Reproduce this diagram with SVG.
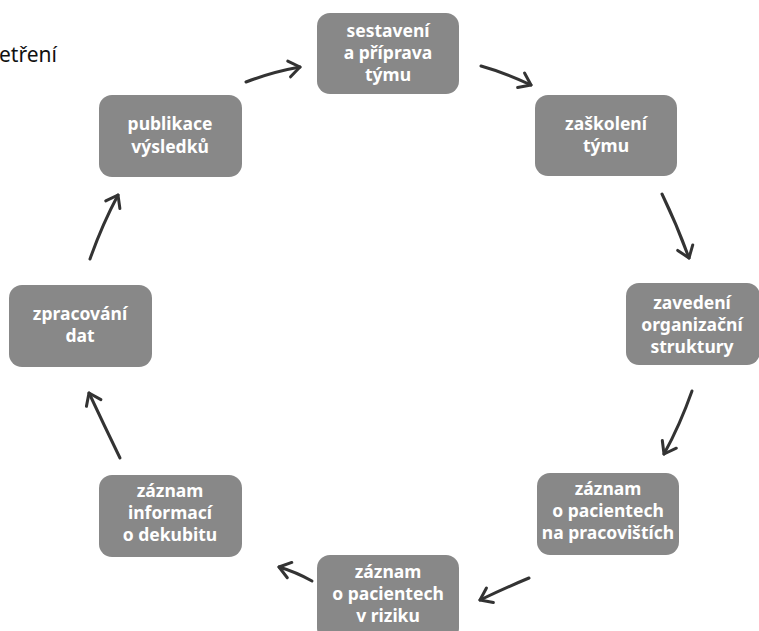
<svg xmlns="http://www.w3.org/2000/svg" width="759" height="631" viewBox="0 0 759 631">
<defs>
<marker id="ah" markerUnits="userSpaceOnUse" markerWidth="30" markerHeight="30" refX="15" refY="15" orient="auto" viewBox="0 0 30 30">
<path d="M4 7 L15 15 L4 23" fill="none" stroke="#333" stroke-width="3" stroke-linecap="round" stroke-linejoin="round"/>
</marker>
</defs>
<style>
.box{fill:#888;}
.lbl{font-family:"Noto Sans","DejaVu Sans",sans-serif;font-weight:bold;font-size:17.5px;fill:#fff;text-anchor:middle;}
.arr{fill:none;stroke:#333;stroke-width:3;stroke-linecap:round;marker-end:url(#ah);}
</style>
<rect width="759" height="631" fill="#fff"/>
<text x="-1" y="62" font-family="'Noto Sans',sans-serif" font-size="21" fill="#111">etření</text>
<g id="n1"><rect class="box" x="317" y="13" width="142" height="81" rx="13"/>
<text class="lbl"><tspan x="388" y="37">sestavení</tspan><tspan x="388" y="59">a příprava</tspan><tspan x="388" y="81">týmu</tspan></text></g>
<g id="n2"><rect class="box" x="535" y="95" width="142" height="81" rx="13"/>
<text class="lbl"><tspan x="606" y="130">zaškolení</tspan><tspan x="606" y="152">týmu</tspan></text></g>
<g id="n3"><rect class="box" x="626" y="283" width="134" height="82" rx="13"/>
<text class="lbl"><tspan x="692" y="309">zavedení</tspan><tspan x="692" y="331">organizační</tspan><tspan x="692" y="353">struktury</tspan></text></g>
<g id="n4"><rect class="box" x="537" y="473" width="142" height="82" rx="13"/>
<text class="lbl"><tspan x="608" y="495">záznam</tspan><tspan x="608" y="517">o pacientech</tspan><tspan x="608" y="539">na pracovištích</tspan></text></g>
<g id="n5"><rect class="box" x="317" y="555" width="142" height="86" rx="13"/>
<text class="lbl"><tspan x="388" y="578">záznam</tspan><tspan x="388" y="600">o pacientech</tspan><tspan x="388" y="622">v riziku</tspan></text></g>
<g id="n6"><rect class="box" x="99" y="475" width="143" height="82" rx="13"/>
<text class="lbl"><tspan x="170" y="497">záznam</tspan><tspan x="170" y="519">informací</tspan><tspan x="170" y="541">o dekubitu</tspan></text></g>
<g id="n7"><rect class="box" x="9" y="285" width="143" height="82" rx="13"/>
<text class="lbl"><tspan x="80" y="320">zpracování</tspan><tspan x="80" y="342">dat</tspan></text></g>
<g id="n8"><rect class="box" x="99" y="95" width="143" height="82" rx="13"/>
<text class="lbl"><tspan x="170" y="130">publikace</tspan><tspan x="170" y="153">výsledků</tspan></text></g>
<g id="connectors">
<path class="arr" d="M246 82 Q272 72 300 67"/>
<path class="arr" d="M481 66 Q506 73 531 85"/>
<path class="arr" d="M662 194 Q677 225 689 258"/>
<path class="arr" d="M692 391 Q680 425 664 454"/>
<path class="arr" d="M529 578 Q505 588 480 600"/>
<path class="arr" d="M312 581 Q296 572 279 567"/>
<path class="arr" d="M120 458 Q104 425 89 393"/>
<path class="arr" d="M90 259 Q102 225 118 195"/>
</g>
</svg>
